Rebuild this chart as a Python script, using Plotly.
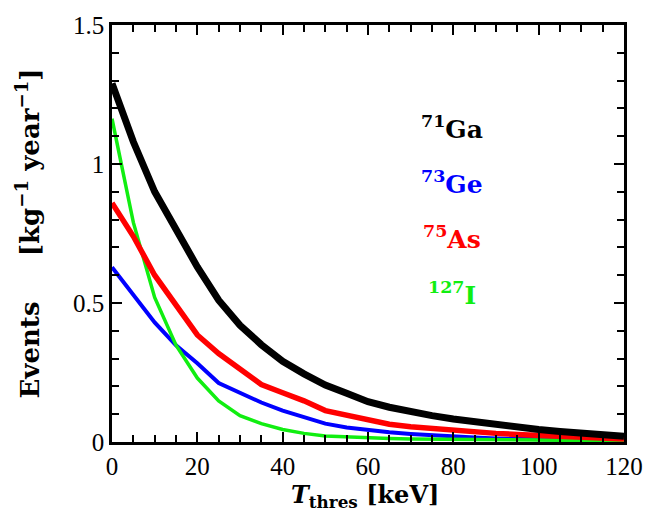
import plotly.graph_objects as go

x = [0, 5, 10, 15, 20, 25, 30, 35, 40, 45, 50, 55, 60, 65, 70, 75, 80, 85, 90, 95, 100, 105, 110, 115, 120]

ga = [1.29, 1.08, 0.90, 0.76, 0.63, 0.51, 0.42, 0.35, 0.29, 0.245, 0.205, 0.175, 0.145, 0.125, 0.108, 0.095, 0.083, 0.072, 0.062, 0.053, 0.045, 0.038, 0.032, 0.026, 0.021]
ge = [0.629, 0.529, 0.43, 0.348, 0.283, 0.212, 0.177, 0.142, 0.113, 0.089, 0.066, 0.052, 0.042, 0.035, 0.029, 0.024, 0.020, 0.016, 0.013, 0.011, 0.009, 0.007, 0.006, 0.005, 0.004]
as_ = [0.86, 0.74, 0.60, 0.495, 0.385, 0.318, 0.265, 0.207, 0.177, 0.148, 0.113, 0.095, 0.077, 0.064, 0.055, 0.048, 0.042, 0.036, 0.031, 0.027, 0.023, 0.019, 0.016, 0.013, 0.011]
iod = [1.163, 0.79, 0.52, 0.348, 0.23, 0.148, 0.095, 0.066, 0.045, 0.031, 0.022, 0.018, 0.016, 0.013, 0.011, 0.010, 0.009, 0.008, 0.007, 0.007, 0.006, 0.006, 0.005, 0.005, 0.005]

labels = ["<sup>71</sup>Ga", "<sup>73</sup>Ge", "<sup>75</sup>As", "<sup>127</sup>I"]
xticks = [0, 20, 40, 60, 80, 100, 120]
yticks = [0, 0.5, 1, 1.5]
ytick_text = ["0", "0.5", "1", "1.5"]

series = [
    (labels[0], ga, "#000000", 7, 121),
    (labels[1], ge, "#0000ff", 4, 177),
    (labels[2], as_, "#ff0000", 5.5, 233),
    (labels[3], iod, "#11ee11", 3.5, 290),
]

W, H = 670, 523
L, R, T, B = 112, 46, 16, 81
pw, ph = W - L - R, H - T - B

def px2paper(px, py):
    return (px - L) / pw, 1 - (py - T) / ph

fig = go.Figure()
for i in [1, 3, 2, 0]:
    name, ys, col, w, _ = series[i]
    fig.add_trace(go.Scatter(x=x, y=ys, mode="lines", line=dict(color=col, width=w),
                             showlegend=False, name=name))

for name, ys, col, w, ypix in series:
    ax, ay = px2paper(452, ypix)
    fig.add_annotation(x=ax, y=ay, xref="paper", yref="paper", text="<b>" + name + "</b>",
                       showarrow=False, font=dict(color=col, size=25, family="DejaVu Serif"),
                       xanchor="center", yanchor="middle")

# axis titles
tx, ty = px2paper(365, 497)
fig.add_annotation(x=tx, y=ty, xref="paper", yref="paper",
                   text="<b><i>T</i><sub>thres</sub> [keV]</b>", showarrow=False,
                   font=dict(family="DejaVu Serif", size=24, color="black"),
                   xanchor="center", yanchor="middle")
yx, yy = px2paper(28, 229)
fig.add_annotation(x=yx, y=yy, xref="paper", yref="paper", textangle=-90,
                   text="<b>Events     [kg<sup>−1</sup> year<sup>−1</sup>]</b>", showarrow=False,
                   font=dict(family="DejaVu Serif", size=26, color="black"),
                   xanchor="center", yanchor="middle")

font = dict(family="Liberation Serif", size=25, color="black")
axis_common = dict(
    showgrid=False, zeroline=False, showline=True, linecolor="black", linewidth=2.5,
    mirror="ticks", ticks="inside", ticklen=10, tickwidth=2, tickcolor="black",
    tickfont=font,
)
fig.update_xaxes(range=[0, 120], tickmode="array", tickvals=xticks,
                 ticktext=[str(v) for v in xticks],
                 minor=dict(dtick=5, ticks="inside", ticklen=7, tickwidth=2, tickcolor="black"),
                 **axis_common)
fig.update_yaxes(range=[0, 1.5], tickmode="array", tickvals=yticks,
                 ticktext=ytick_text,
                 minor=dict(dtick=0.1, ticks="inside", ticklen=7, tickwidth=2, tickcolor="black"),
                 **axis_common)

fig.update_layout(width=W, height=H, margin=dict(l=L, r=R, t=T, b=B),
                  plot_bgcolor="white", paper_bgcolor="white")

fig.write_html("out.html")
